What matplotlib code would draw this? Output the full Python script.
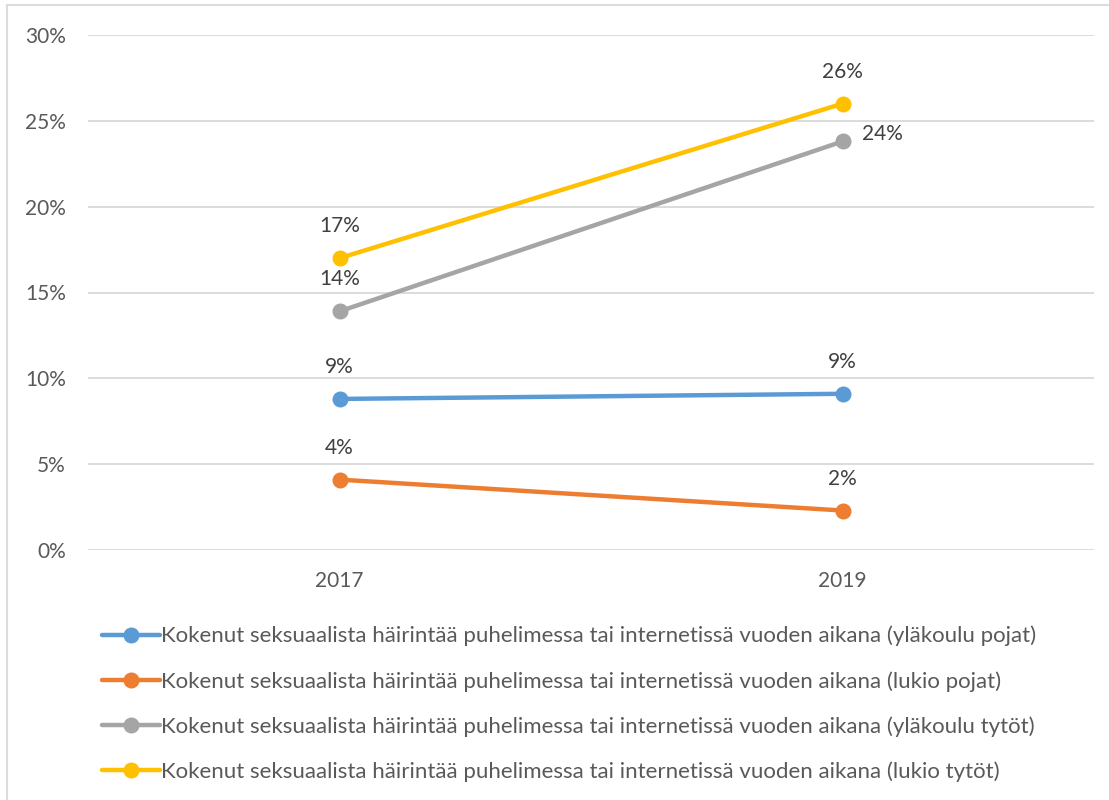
import matplotlib
matplotlib.use('Agg')
import matplotlib.pyplot as plt
from matplotlib.lines import Line2D
from matplotlib.ticker import FuncFormatter

plt.rcParams['font.family'] = ['Lato', 'DejaVu Sans']

# ── Data ──
years = ['2017', '2019']
ylakoulu_pojat = [8.8, 9.1]
lukio_pojat = [4.1, 2.3]
ylakoulu_tytot = [13.9, 23.8]
lukio_tytot = [17.0, 26.0]
value_labels = {
    'ylakoulu_pojat': ['9%', '9%'],
    'lukio_pojat': ['4%', '2%'],
    'ylakoulu_tytot': ['14%', '24%'],
    'lukio_tytot': ['17%', '26%'],
}
base = 'Kokenut seksuaalista häirintää puhelimessa tai internetissä vuoden aikana'
series_names = [
    base + ' (yläkoulu pojat)',
    base + ' (lukio pojat)',
    base + ' (yläkoulu tytöt)',
    base + ' (lukio tytöt)',
]

TEXT = '#595959'
GRID = '#D9D9D9'
colors = ['#5B9BD5', '#ED7D31', '#A5A5A5', '#FFC000']

fig = plt.figure(figsize=(11.09, 8.0), dpi=100)
ax = fig.add_axes([88 / 1109, 250 / 800, (1094 - 88) / 1109, 515 / 800])

x = range(len(years))
series = [ylakoulu_pojat, lukio_pojat, ylakoulu_tytot, lukio_tytot]
keys = ['ylakoulu_pojat', 'lukio_pojat', 'ylakoulu_tytot', 'lukio_tytot']
for vals, key, col, name in zip(series, keys, colors, series_names):
    ax.plot(x, vals, color=col, lw=3.2, marker='o', ms=10.5,
            solid_capstyle='round', label=name, zorder=3)
    for i, (v, lab) in enumerate(zip(vals, value_labels[key])):
        if key == 'ylakoulu_tytot' and i == 1:
            ax.annotate(lab, (i, v), xytext=(14, 5), textcoords='offset points',
                        ha='left', va='center', fontsize=15, color='#404040')
        else:
            ax.annotate(lab, (i, v), xytext=(0, 23), textcoords='offset points',
                        ha='center', va='center', fontsize=15, color='#404040')

ax.set_xlim(-0.5, 1.5)
ax.set_ylim(0, 30)
ax.set_yticks(range(0, 31, 5))
ax.yaxis.set_major_formatter(FuncFormatter(lambda v, p: f'{int(v)}%'))
ax.set_xticks(list(x))
ax.set_xticklabels(years)
ax.grid(axis='y', color=GRID, lw=1.3)
ax.set_axisbelow(True)
for s in ax.spines.values():
    s.set_visible(False)
ax.tick_params(length=0, labelsize=15, colors=TEXT)
ax.tick_params(axis='y', pad=16)
ax.tick_params(axis='x', pad=15)

leg = fig.legend(loc='upper left', bbox_to_anchor=(93 / 1109, 1 - 617 / 800),
                 frameon=False, fontsize=16, handlelength=2.6,
                 handletextpad=0.08, labelspacing=1.1, borderaxespad=0)
for t in leg.get_texts():
    t.set_color(TEXT)

# outer chart border (top and left edges visible in the crop)
fig.add_artist(Line2D([7 / 1109, 1], [1 - 5 / 800, 1 - 5 / 800],
                      transform=fig.transFigure, color='#DCDCDC', lw=1.5))
fig.add_artist(Line2D([7 / 1109, 7 / 1109], [0, 1 - 5 / 800],
                      transform=fig.transFigure, color='#DCDCDC', lw=1.5))

fig.savefig('out.png', dpi=100)
